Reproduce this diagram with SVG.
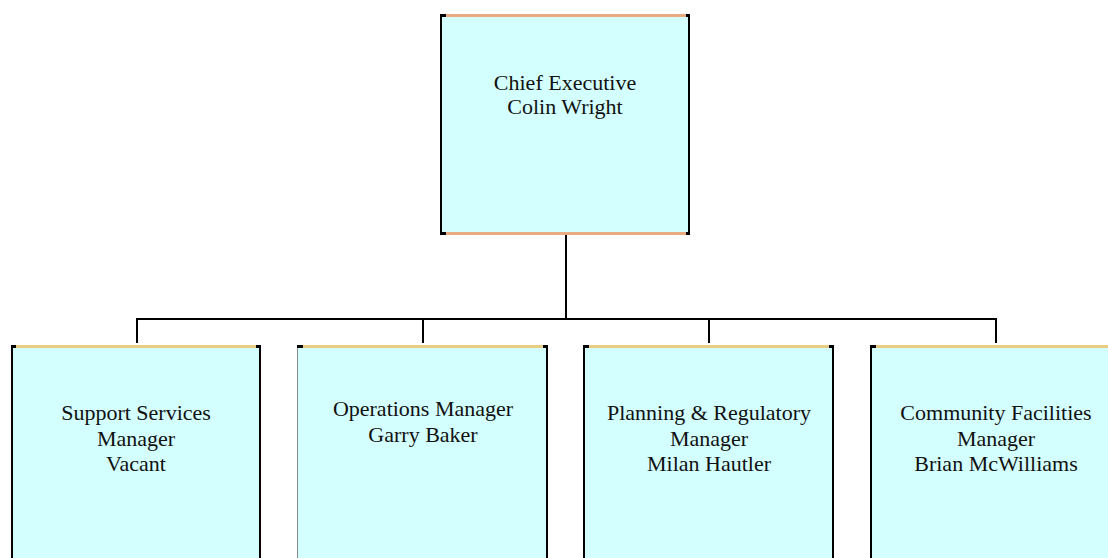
<svg xmlns="http://www.w3.org/2000/svg" width="1108" height="558" viewBox="0 0 1108 558">
<style>
.fill{fill:#d4ffff}
.ot{fill:#e9ab82}
.yt{fill:#e8cd83}
.blk{fill:#000}
.gry{fill:#8a8a8a}
.t{font-family:"Liberation Serif","Times New Roman",serif;font-size:22px;fill:#111;text-anchor:middle}
.c{stroke:#000;stroke-width:2;fill:none}
</style>
<rect width="1108" height="558" fill="#fff"/>
<g id="connectors">
<line class="c" x1="566" y1="235" x2="566" y2="319"/>
<line class="c" x1="136" y1="319" x2="997" y2="319"/>
<line class="c" x1="137" y1="318" x2="137" y2="343"/>
<line class="c" x1="423" y1="318" x2="423" y2="343"/>
<line class="c" x1="709" y1="318" x2="709" y2="343"/>
<line class="c" x1="996" y1="318" x2="996" y2="343"/>
</g>
<g id="chief">
<rect class="fill" x="441" y="15" width="248" height="219"/>
<rect class="ot" x="446" y="14" width="240" height="3"/>
<rect class="ot" x="446" y="232" width="240" height="3"/>
<rect class="blk" x="440" y="14" width="2" height="221"/>
<rect class="blk" x="688" y="14" width="2" height="221"/>
<rect class="blk" x="440" y="14" width="6" height="3"/>
<rect class="blk" x="686" y="14" width="4" height="3"/>
<rect class="blk" x="440" y="232" width="6" height="3"/>
<rect class="blk" x="686" y="232" width="4" height="3"/>
<text class="t" x="565" y="90">Chief Executive</text>
<text class="t" x="565" y="114">Colin Wright</text>
</g>
<g id="support">
<rect class="fill" x="12" y="346" width="248" height="212"/>
<rect class="yt" x="16" y="345" width="240" height="3"/>
<rect class="blk" x="11" y="345" width="2" height="213"/>
<rect class="blk" x="259" y="345" width="2" height="213"/>
<rect class="blk" x="11" y="345" width="5" height="3"/>
<rect class="blk" x="256" y="345" width="5" height="3"/>
<text class="t" x="136" y="420">Support Services</text>
<text class="t" x="136" y="446">Manager</text>
<text class="t" x="136" y="471">Vacant</text>
</g>
<g id="operations">
<rect class="fill" x="298" y="346" width="248" height="212"/>
<rect class="yt" x="303" y="345" width="240" height="3"/>
<rect class="gry" x="297" y="345" width="1" height="213"/>
<rect class="blk" x="546" y="345" width="2" height="213"/>
<rect class="blk" x="297" y="345" width="6" height="3"/>
<rect class="blk" x="543" y="345" width="5" height="3"/>
<text class="t" x="423" y="416">Operations Manager</text>
<text class="t" x="423" y="442">Garry Baker</text>
</g>
<g id="planning">
<rect class="fill" x="584" y="346" width="248" height="212"/>
<rect class="yt" x="589" y="345" width="240" height="3"/>
<rect class="blk" x="583" y="345" width="2" height="213"/>
<rect class="blk" x="832" y="345" width="2" height="213"/>
<rect class="blk" x="583" y="345" width="6" height="3"/>
<rect class="blk" x="829" y="345" width="5" height="3"/>
<text class="t" x="709" y="420">Planning &amp; Regulatory</text>
<text class="t" x="709" y="446">Manager</text>
<text class="t" x="709" y="471">Milan Hautler</text>
</g>
<g id="community">
<rect class="fill" x="871" y="346" width="248" height="212"/>
<rect class="yt" x="876" y="345" width="240" height="3"/>
<rect class="blk" x="870" y="345" width="2" height="213"/>
<rect class="blk" x="870" y="345" width="6" height="3"/>
<text class="t" x="996" y="420">Community Facilities</text>
<text class="t" x="996" y="446">Manager</text>
<text class="t" x="996" y="471">Brian McWilliams</text>
</g>
</svg>
